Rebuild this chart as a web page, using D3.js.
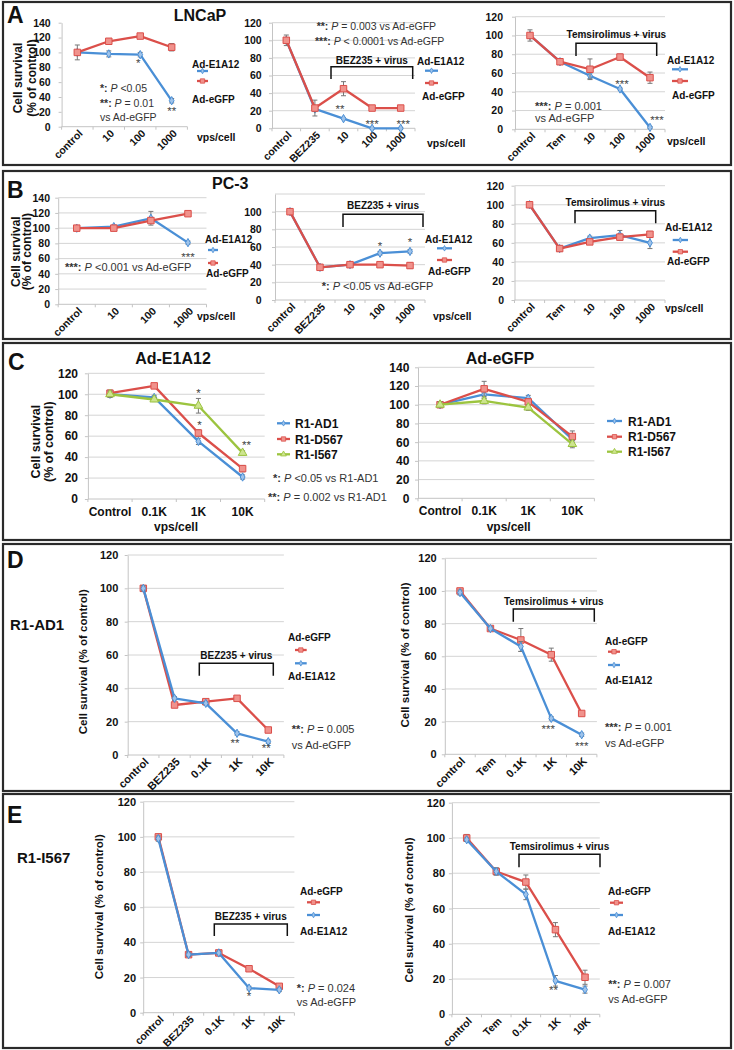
<!DOCTYPE html>
<html><head><meta charset="utf-8">
<script src="https://cdn.jsdelivr.net/npm/d3@7"></script>
<style>
body{margin:0;background:#fff}
text{font-family:"Liberation Sans",Arial,Helvetica,sans-serif}
</style>
</head><body>
<script>
// ---------------- DATA ----------------
const catsVirus = ["control","10","100","1000"];
const catsBEZ = ["control","BEZ235","10","100","1000"];
const catsTem = ["control","Tem","10","100","1000"];
const catsC = ["Control","0.1K","1K","10K"];
const catsBEZk = ["control","BEZ235","0.1K","1K","10K"];
const catsTemk = ["control","Tem","0.1K","1K","10K"];

// A: LNCaP
const lncapVirusE1A12 = [100, 98, 97, 35];
const lncapVirusE1A12Err = [2, 4, 3, 3];
const lncapVirusGFP = [100, 115, 122, 107];
const lncapVirusGFPErr = [10, 3, 3, 5];
const lncapBEZE1A12 = [100, 22, 11, 0, 0];
const lncapBEZE1A12Err = [3, 3, 1, 1, 1];
const lncapBEZGFP = [100, 23, 45, 23, 23];
const lncapBEZGFPErr = [6, 9, 8, 2, 2];
const lncapTemE1A12 = [100, 72, 57, 43, 2];
const lncapTemE1A12Err = [2, 2, 3, 1, 1];
const lncapTemGFP = [100, 72, 64, 77, 55];
const lncapTemGFPErr = [6, 3, 11, 3, 6];

// B: PC-3
const pc3VirusE1A12 = [100, 102, 113, 81];
const pc3VirusE1A12Err = [2, 2, 9, 2];
const pc3VirusGFP = [100, 100, 110, 119];
const pc3VirusGFPErr = [2, 3, 3, 2];
const pc3BEZE1A12 = [100, 37, 40, 53, 55];
const pc3BEZE1A12Err = [2, 2, 2, 2, 2];
const pc3BEZGFP = [100, 37, 40, 40, 39];
const pc3BEZGFPErr = [2, 2, 2, 2, 3];
const pc3TemE1A12 = [100, 54, 65, 68, 60];
const pc3TemE1A12Err = [2, 2, 2, 5, 6];
const pc3TemGFP = [100, 54, 61, 66, 69];
const pc3TemGFPErr = [2, 3, 2, 3, 3];

// C: cell lines
const cE1A12_AD1 = [100, 97, 55, 21];
const cE1A12_AD1Err = [3, 2, 3, 2];
const cE1A12_D567 = [101, 108, 63, 29];
const cE1A12_D567Err = [3, 2, 3, 3];
const cE1A12_I567 = [100, 95, 89, 44];
const cE1A12_I567Err = [3, 2, 7, 2];
const cGFP_AD1 = [100, 111, 107, 63];
const cGFP_AD1Err = [3, 4, 3, 4];
const cGFP_D567 = [100, 117, 103, 66];
const cGFP_D567Err = [3, 8, 3, 6];
const cGFP_I567 = [100, 104, 97, 58];
const cGFP_I567Err = [3, 3, 3, 4];

// D: R1-AD1
const ad1BEZGFP = [100, 30, 32, 34, 15];
const ad1BEZGFPErr = [1.5, 1, 1, 1, 1];
const ad1BEZE1A12 = [100, 34, 31, 13, 8];
const ad1BEZE1A12Err = [1.5, 1, 1, 1, 1];
const ad1TemGFP = [100, 77, 70, 61, 25];
const ad1TemGFPErr = [1.5, 1, 7, 4, 1];
const ad1TemE1A12 = [99, 77, 66, 22, 12];
const ad1TemE1A12Err = [1.5, 1, 3, 1, 1];

// E: R1-I567
const i567BEZGFP = [100, 33, 34, 25, 15];
const i567BEZGFPErr = [1.5, 1, 1, 1, 1];
const i567BEZE1A12 = [99, 33, 34, 14, 13];
const i567BEZE1A12Err = [1.5, 1, 1, 1, 1];
const i567TemGFP = [100, 81, 75, 48, 21];
const i567TemGFPErr = [2, 2, 4, 4, 4];
const i567TemE1A12 = [99, 81, 68, 19, 14];
const i567TemE1A12Err = [1, 2, 3, 3, 2];

// ---------------- STYLES ----------------
const ST = {
  blue: {line:"#4a8fd6", fill:"#9fc3ea", sym:d3.symbolDiamond, size:20},
  red: {line:"#db4f4a", fill:"#f0928c", sym:d3.symbolSquare, size:42},
  green: {line:"#9cc43f", fill:"#cde48f", sym:d3.symbolTriangle, size:32}
};
const FONT = '"Liberation Sans",Arial,Helvetica,sans-serif';

const svg = d3.select("body").append("svg").attr("width",734).attr("height",1050).style("display","block");

// panel boxes
[[3,2,728,163],[3,171,728,168],[3,343,728,197],[3,544,728,247],[3,794,728,254]].forEach(b=>{
  svg.append("rect").attr("x",b[0]).attr("y",b[1]).attr("width",b[2]).attr("height",b[3])
    .attr("fill","none").attr("stroke","#2a2a2a").attr("stroke-width",2.2);
});

function txt(g,x,y,t,size,weight,anchor,fill){
  return g.append("text").attr("x",x).attr("y",y).attr("font-size",size)
    .attr("font-weight",weight||"normal").attr("text-anchor",anchor||"start")
    .attr("fill",fill||"#111").style("white-space","pre").text(t);
}

// panel letters and titles
[["A",7,23],["B",7,198],["C",8,370],["D",7,568],["E",7,823]].forEach(l=>txt(svg,l[1],l[2],l[0],23,"bold"));
txt(svg,200,21,"LNCaP",16,"bold","middle");
txt(svg,212,189,"PC-3",16,"bold");
txt(svg,173,364,"Ad-E1A12",16,"bold","middle");
txt(svg,500,364,"Ad-eGFP",16,"bold","middle");
txt(svg,10,630,"R1-AD1",15,"bold");
txt(svg,17,862.5,"R1-I567",15,"bold");

function note(g,n,size){
  const parts = n.t.split("|");
  const t = g.append("text").attr("x",n.x).attr("y",n.y).attr("font-size",size).attr("fill","#333").style("white-space","pre");
  if(parts.length===1){ t.text(parts[0]); return; }
  t.append("tspan").attr("font-weight","bold").text(parts[0]+" ");
  t.append("tspan").attr("font-style","italic").text(parts[1]);
  t.append("tspan").text(parts[2]);
}

function chart(o){
  const g = svg.append("g");
  const x = d3.scaleBand().domain(o.cats).range([o.x0,o.x1]);
  const bw = x.bandwidth();
  const cx = c => x(c)+bw/2;
  const y = d3.scaleLinear().domain([0,o.gridMax]).range([o.yb,o.yt]);
  const step = o.step||20;
  if(o.grid!==false){
    g.append("g").selectAll("line").data(d3.range(step,o.gridMax+0.01,step)).join("line")
      .attr("x1",o.x0).attr("x2",o.x1).attr("y1",d=>y(d)).attr("y2",d=>y(d))
      .attr("stroke","#d4d4d4").attr("stroke-width",1);
  }
  const ya = g.append("g").attr("transform",`translate(${o.x0},0)`)
    .call(d3.axisLeft(y).tickValues(d3.range(0,(o.labelMax||o.gridMax)+0.01,step)).tickSizeInner(3).tickSizeOuter(0).tickPadding(o.x0-o.labR-3));
  ya.select(".domain").attr("stroke","#c4c4c4");
  ya.selectAll(".tick line").attr("stroke","#c4c4c4");
  ya.selectAll(".tick text").attr("font-size",o.tf).attr("font-weight","bold").attr("fill","#111").attr("font-family",FONT);
  // x axis line and boundary ticks
  g.append("line").attr("x1",o.x0).attr("x2",o.x1).attr("y1",o.yb).attr("y2",o.yb).attr("stroke","#c4c4c4");
  g.append("g").selectAll("line").data(d3.range(o.cats.length+1)).join("line")
    .attr("x1",i=>o.x0+i*bw).attr("x2",i=>o.x0+i*bw).attr("y1",o.yb).attr("y2",o.yb+3).attr("stroke","#c4c4c4");
  // x labels
  if(o.rot){
    g.append("g").selectAll("text").data(o.cats).join("text")
      .attr("transform",c=>`translate(${cx(c)+6},${o.yb+7.5}) rotate(-45)`)
      .attr("text-anchor","end").attr("font-size",o.xf).attr("font-weight","bold").attr("fill","#111").text(c=>c);
  } else {
    g.append("g").selectAll("text").data(o.cats).join("text")
      .attr("x",c=>cx(c)).attr("y",o.yb+17).attr("text-anchor","middle")
      .attr("font-size",o.xf).attr("font-weight","bold").attr("fill","#111").text(c=>c);
  }
  // series
  o.series.forEach(s=>{
    const st = ST[s.s];
    const sg = g.append("g");
    sg.selectAll("g").data(s.v).join("g").each(function(v,i){
      const e = s.e[i], xx = cx(o.cats[i]);
      const gg = d3.select(this);
      gg.append("line").attr("x1",xx).attr("x2",xx).attr("y1",y(v-e)).attr("y2",y(v+e)).attr("stroke","#777").attr("stroke-width",1);
      [v-e,v+e].forEach(w=>gg.append("line").attr("x1",xx-2.5).attr("x2",xx+2.5).attr("y1",y(w)).attr("y2",y(w)).attr("stroke","#777").attr("stroke-width",1));
    });
    sg.append("path").datum(s.v)
      .attr("d",d3.line().x((d,i)=>cx(o.cats[i])).y(d=>y(d)))
      .attr("fill","none").attr("stroke",st.line).attr("stroke-width",2.3).attr("stroke-linejoin","round");
    sg.selectAll("path.m").data(s.v).join("path").attr("class","m")
      .attr("transform",(d,i)=>`translate(${cx(o.cats[i])},${y(d)})`)
      .attr("d",d3.symbol().type(st.sym).size(st.size))
      .attr("fill",st.fill).attr("stroke",st.line).attr("stroke-width",1);
  });
  // stars
  (o.stars||[]).forEach(s=>{
    txt(g,cx(o.cats[s.i])+(s.dx||0),y(s.v)+s.dy,s.t,11.5,"normal","middle","#444");
  });
  // notes
  (o.notes||[]).forEach(n=>note(g,n,o.noteSize||10.5));
  // bracket
  if(o.bracket){
    const b=o.bracket;
    g.append("path").attr("d",`M${b.x1},${b.bot}V${b.top}H${b.x2}V${b.bot}`)
      .attr("fill","none").attr("stroke","#111").attr("stroke-width",1.5);
    txt(g,(b.x1+b.x2)/2,b.ly,b.label,10,"bold","middle");
  }
  // legend
  (o.legLines||[]).forEach(l=>{
    const st=ST[l.s];
    g.append("line").attr("x1",l.x1).attr("x2",l.x2).attr("y1",l.y).attr("y2",l.y).attr("stroke",st.line).attr("stroke-width",2.3);
    g.append("path").attr("transform",`translate(${(l.x1+l.x2)/2},${l.y})`)
      .attr("d",d3.symbol().type(st.sym).size(st.size*0.45)).attr("fill",st.fill).attr("stroke",st.line).attr("stroke-width",0.8);
  });
  (o.legText||[]).forEach(t=>txt(g,t.x,t.y,t.t,o.legSize||10,"bold"));
  // y title
  if(o.ytitle){
    o.ytitle.lines.forEach((ln,k)=>{
      g.append("text").attr("transform",`translate(${o.ytitle.xs[k]},${o.ytitle.cy}) rotate(-90)`)
        .attr("text-anchor","middle").attr("font-size",o.ytitle.size).attr("font-weight","bold").attr("fill","#111").text(ln);
    });
  }
  // vps/cell
  if(o.vps) txt(g,o.vps.x,o.vps.y,"vps/cell",o.vps.size||10.5,"bold",o.vps.anchor||"start");
}

const ytA = ["Cell survival","(% of control)"];
const ytD = ["Cell survival (% of control)"];

// ---------- A ----------
chart({cats:catsVirus, series:[{v:lncapVirusE1A12,e:lncapVirusE1A12Err,s:"blue"},{v:lncapVirusGFP,e:lncapVirusGFPErr,s:"red"}],
  x0:61.6,x1:187.4,yb:126.7,yt:22.7,gridMax:140,labR:50.7,grid:false,tf:10.5,xf:10.5,rot:true,
  ytitle:{xs:[22,36],cy:78,lines:ytA,size:12},
  legText:[{x:192,y:68,t:"Ad-E1A12"},{x:192,y:103,t:"Ad-eGFP"}],
  legLines:[{x1:197,x2:208,y:71,s:"blue"},{x1:197,x2:208,y:81,s:"red"}],
  stars:[{i:2,v:97,dx:-2,dy:12.5,t:"*"},{i:3,v:35,dx:0,dy:14,t:"**"}],
  notes:[{x:100,y:92,t:"*:|P| <0.05"},{x:100,y:107,t:"**:|P| = 0.01"},{x:100,y:121,t:"vs Ad-eGFP"}],
  vps:{x:197,y:141}});
chart({cats:catsBEZ, series:[{v:lncapBEZE1A12,e:lncapBEZE1A12Err,s:"blue"},{v:lncapBEZGFP,e:lncapBEZGFPErr,s:"red"}],
  x0:272,x1:415,yb:128.3,yt:22.7,gridMax:120,labR:261.7,tf:10.5,xf:10.5,rot:true,
  legText:[{x:417,y:64.7,t:"Ad-E1A12"},{x:422,y:99.7,t:"Ad-eGFP"}],
  legLines:[{x1:425,x2:438,y:70.7,s:"blue"},{x1:425,x2:438,y:83,s:"red"}],
  stars:[{i:2,v:11,dx:-3.5,dy:-5.6,t:"**"},{i:3,v:0,dx:0,dy:-0.6,t:"***"},{i:4,v:0,dx:2.6,dy:-0.6,t:"***"}],
  notes:[{x:316.7,y:30,t:"**:|P| = 0.003 vs Ad-eGFP"},{x:315,y:45,t:"***:|P| < 0.0001 vs Ad-eGFP"}],
  bracket:{x1:331,x2:412.7,top:66.7,bot:79,label:"BEZ235 + virus",ly:63.5},
  vps:{x:427,y:147}});
chart({cats:catsTem, series:[{v:lncapTemE1A12,e:lncapTemE1A12Err,s:"blue"},{v:lncapTemGFP,e:lncapTemGFPErr,s:"red"}],
  x0:515,x1:665,yb:129.3,yt:16.7,gridMax:120,labR:503,tf:10.5,xf:10.5,rot:true,
  legText:[{x:667,y:64,t:"Ad-E1A12"},{x:672,y:99,t:"Ad-eGFP"}],
  legLines:[{x1:672,x2:688,y:69.3,s:"blue"},{x1:672,x2:688,y:81,s:"red"}],
  stars:[{i:3,v:43,dx:2,dy:-1.3,t:"***"},{i:4,v:2,dx:7,dy:-3,t:"***"}],
  notes:[{x:535,y:110,t:"***:|P| = 0.001"},{x:535,y:122.3,t:"vs Ad-eGFP"}], noteSize:11,
  bracket:{x1:576,x2:656.7,top:43.3,bot:56,label:"Temsirolimus + virus",ly:37.5},
  vps:{x:667,y:145}});

// ---------- B ----------
chart({cats:catsVirus, series:[{v:pc3VirusE1A12,e:pc3VirusE1A12Err,s:"blue"},{v:pc3VirusGFP,e:pc3VirusGFPErr,s:"red"}],
  x0:58.2,x1:206.5,yb:304.3,yt:197.7,gridMax:140,labR:50,tf:10.5,xf:10.5,rot:true,
  ytitle:{xs:[19.5,31],cy:251.7,lines:ytA,size:12},
  legText:[{x:205,y:243,t:"Ad-E1A12"},{x:206,y:277,t:"Ad-eGFP"}],
  legLines:[{x1:208,x2:218,y:250,s:"blue"},{x1:208,x2:218,y:263,s:"red"}],
  stars:[{i:3,v:81,dx:0,dy:18,t:"***"}],
  notes:[{x:65,y:271,t:"***:|P| <0.001 vs Ad-eGFP"}], noteSize:11,
  vps:{x:197,y:319.7}});
chart({cats:catsBEZ, series:[{v:pc3BEZE1A12,e:pc3BEZE1A12Err,s:"blue"},{v:pc3BEZGFP,e:pc3BEZGFPErr,s:"red"}],
  x0:275,x1:425,yb:300,yt:194,gridMax:120,labelMax:100,labR:261.7,tf:10.5,xf:10.5,rot:true,
  legText:[{x:425,y:243,t:"Ad-E1A12"},{x:428,y:275,t:"Ad-eGFP"}],
  legLines:[{x1:437,x2:452,y:248.3,s:"blue"},{x1:437,x2:452,y:260,s:"red"}],
  stars:[{i:3,v:53,dx:0,dy:-3,t:"*"},{i:4,v:55,dx:0,dy:-5,t:"*"}],
  notes:[{x:321.7,y:289.5,t:"*:|P| <0.05 vs Ad-eGFP"}], noteSize:11,
  bracket:{x1:343,x2:423,top:214.3,bot:227,label:"BEZ235 + virus",ly:209},
  vps:{x:433,y:320}});
chart({cats:catsTem, series:[{v:pc3TemE1A12,e:pc3TemE1A12Err,s:"blue"},{v:pc3TemGFP,e:pc3TemGFPErr,s:"red"}],
  x0:514.5,x1:665,yb:300,yt:185.7,gridMax:120,labR:504,tf:10.5,xf:10.5,rot:true,
  legText:[{x:665,y:231,t:"Ad-E1A12"},{x:667,y:265,t:"Ad-eGFP"}],
  legLines:[{x1:672.7,x2:688,y:240,s:"blue"},{x1:672.7,x2:688,y:251.7,s:"red"}],
  bracket:{x1:575,x2:655.7,top:210.7,bot:223.3,label:"Temsirolimus + virus",ly:206},
  vps:{x:665,y:312}});

// ---------- C ----------
chart({cats:catsC, series:[{v:cE1A12_AD1,e:cE1A12_AD1Err,s:"blue"},{v:cE1A12_D567,e:cE1A12_D567Err,s:"red"},{v:cE1A12_I567,e:cE1A12_I567Err,s:"green"}],
  x0:87.9,x1:264.7,yb:499,yt:373.3,gridMax:120,labR:78,tf:12,xf:12,rot:false,
  ytitle:{xs:[40,52.5],cy:441.7,lines:ytA,size:12.5},
  legLines:[{x1:277,x2:290,y:423.3,s:"blue"},{x1:277,x2:290,y:439,s:"red"},{x1:277,x2:290,y:454.3,s:"green"}],
  legText:[{x:295,y:428,t:"R1-AD1"},{x:295,y:443.5,t:"R1-D567"},{x:295,y:459,t:"R1-I567"}], legSize:12,
  stars:[{i:2,v:89,dx:0,dy:-9,t:"*"},{i:2,v:63,dx:1,dy:-3.7,t:"*"},{i:3,v:44,dx:4,dy:-3.6,t:"**"}],
  notes:[{x:273,y:481.5,t:"*:|P| <0.05 vs R1-AD1"},{x:268,y:501,t:"**:|P| = 0.002 vs R1-AD1"}], noteSize:11,
  vps:{x:176,y:531,anchor:"middle",size:12}});
chart({cats:catsC, series:[{v:cGFP_AD1,e:cGFP_AD1Err,s:"blue"},{v:cGFP_D567,e:cGFP_D567Err,s:"red"},{v:cGFP_I567,e:cGFP_I567Err,s:"green"}],
  x0:418,x1:594.4,yb:498.3,yt:367.3,gridMax:140,labR:409.3,tf:12,xf:12,rot:false,
  legLines:[{x1:607,x2:622,y:421,s:"blue"},{x1:607,x2:622,y:436.7,s:"red"},{x1:607,x2:622,y:451.7,s:"green"}],
  legText:[{x:628,y:425.5,t:"R1-AD1"},{x:628,y:441,t:"R1-D567"},{x:628,y:456,t:"R1-I567"}], legSize:12,
  vps:{x:508.7,y:531,anchor:"middle",size:12}});

// ---------- D ----------
chart({cats:catsBEZk, series:[{v:ad1BEZGFP,e:ad1BEZGFPErr,s:"red"},{v:ad1BEZE1A12,e:ad1BEZE1A12Err,s:"blue"}],
  x0:127.7,x1:283.9,yb:755,yt:555,gridMax:120,labR:118.3,tf:11,xf:11,rot:true,
  ytitle:{xs:[87],cy:661.7,lines:ytD,size:11.5},
  legText:[{x:288,y:641,t:"Ad-eGFP"},{x:288,y:680,t:"Ad-E1A12"}],
  legLines:[{x1:295,x2:306.7,y:650,s:"red"},{x1:295,x2:306.7,y:663.3,s:"blue"}],
  stars:[{i:3,v:13,dx:-2,dy:13.4,t:"**"},{i:4,v:8,dx:-2,dy:10,t:"**"}],
  notes:[{x:291.7,y:733,t:"**:|P| = 0.005"},{x:291.7,y:749,t:"vs Ad-eGFP"}], noteSize:11,
  bracket:{x1:199.3,x2:273.3,top:663.3,bot:675.7,label:"BEZ235 + virus",ly:658.5}});
chart({cats:catsTemk, series:[{v:ad1TemGFP,e:ad1TemGFPErr,s:"red"},{v:ad1TemE1A12,e:ad1TemE1A12Err,s:"blue"}],
  x0:444.8,x1:596.9,yb:754.3,yt:558.3,gridMax:120,labR:436.7,tf:11,xf:11,rot:true,
  ytitle:{xs:[409],cy:655,lines:ytD,size:11.5},
  legText:[{x:605,y:644.5,t:"Ad-eGFP"},{x:605,y:683.5,t:"Ad-E1A12"}],
  legLines:[{x1:608,x2:620,y:651.7,s:"red"},{x1:608,x2:620,y:665,s:"blue"}],
  stars:[{i:3,v:22,dx:-3,dy:15,t:"***"},{i:4,v:12,dx:0,dy:15,t:"***"}],
  notes:[{x:605,y:731,t:"***:|P| = 0.001"},{x:605,y:747,t:"vs Ad-eGFP"}], noteSize:11,
  bracket:{x1:513.3,x2:594.3,top:609,bot:621.7,label:"Temsirolimus + virus",ly:604.5}});

// ---------- E ----------
chart({cats:catsBEZk, series:[{v:i567BEZGFP,e:i567BEZGFPErr,s:"red"},{v:i567BEZE1A12,e:i567BEZE1A12Err,s:"blue"}],
  x0:143.2,x1:294.4,yb:1012.7,yt:801.7,gridMax:120,labR:136,tf:11,xf:10.5,rot:true,
  ytitle:{xs:[102.5],cy:906.7,lines:ytD,size:11.5},
  legText:[{x:300,y:894.5,t:"Ad-eGFP"},{x:300,y:934.5,t:"Ad-E1A12"}],
  legLines:[{x1:307,x2:320,y:902.3,s:"red"},{x1:307,x2:320,y:915,s:"blue"}],
  stars:[{i:3,v:14,dx:0,dy:12,t:"*"}],
  notes:[{x:296.7,y:991.5,t:"*:|P| = 0.024"},{x:296.7,y:1006,t:"vs Ad-eGFP"}], noteSize:11,
  bracket:{x1:214.3,x2:287.3,top:924,bot:936,label:"BEZ235 + virus",ly:920}});
chart({cats:catsTemk, series:[{v:i567TemGFP,e:i567TemGFPErr,s:"red"},{v:i567TemE1A12,e:i567TemE1A12Err,s:"blue"}],
  x0:451.9,x1:599.8,yb:1014.3,yt:802.7,gridMax:120,labR:445,tf:11,xf:10.5,rot:true,
  ytitle:{xs:[412.5],cy:910,lines:ytD,size:11.5},
  legText:[{x:608,y:894.5,t:"Ad-eGFP"},{x:608,y:934.5,t:"Ad-E1A12"}],
  legLines:[{x1:610,x2:623,y:902.7,s:"red"},{x1:610,x2:623,y:915,s:"blue"}],
  stars:[{i:3,v:19,dx:-2,dy:13.5,t:"**"}],
  notes:[{x:608.3,y:987.5,t:"**:|P| = 0.007"},{x:608.3,y:1002.5,t:"vs Ad-eGFP"}], noteSize:11,
  bracket:{x1:519,x2:600,top:854.3,bot:867.3,label:"Temsirolimus + virus",ly:850}});
</script>
</body></html>
